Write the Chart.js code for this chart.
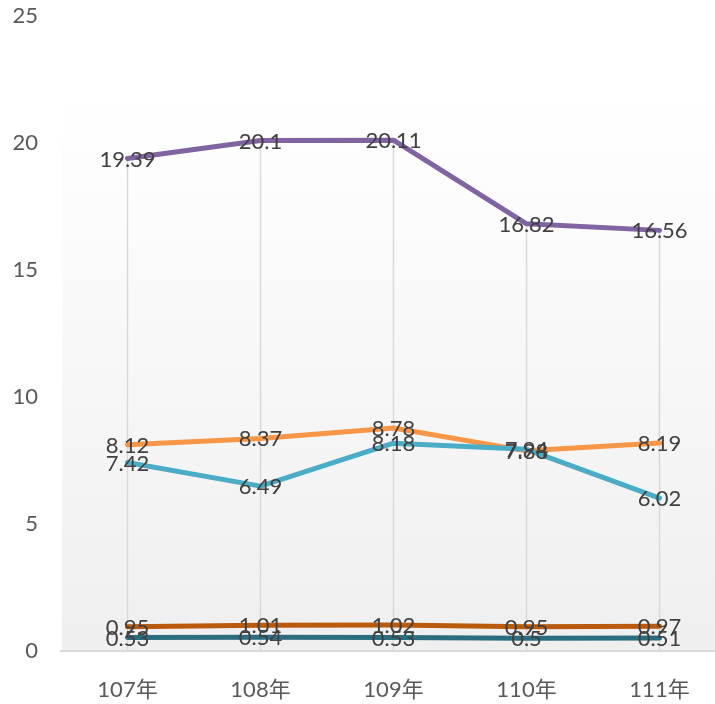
<!DOCTYPE html>
<html>
<head>
<meta charset="utf-8">
<script src="https://cdn.jsdelivr.net/npm/chart.js@4"></script>
<style>
  html, body { margin: 0; padding: 0; background: #fff; overflow: hidden; }
  #wrap { width: 741px; height: 704px; }
</style>
</head>
<body>
<div id="wrap"><canvas id="lineChart" width="741" height="704"></canvas></div>
<script>
const years = ['107年', '108年', '109年', '110年', '111年']

const purpleVals = [19.39, 20.1, 20.11, 16.82, 16.56]
const orangeVals = [8.12, 8.37, 8.78, 7.88, 8.19]
const blueVals = [7.42, 6.49, 8.18, 7.94, 6.02]
const darkOrangeVals = [0.95, 1.01, 1.02, 0.95, 0.97]
const tealVals = [0.53, 0.54, 0.53, 0.5, 0.51]

const yTicks = [0, 5, 10, 15, 20, 25]

const fontFam = 'Lato, "Noto Sans CJK TC", sans-serif'

// plot area shading, light at the top to grey at the axis
const plotBg = {
  id: 'plotBg',
  beforeDraw(chart) {
    const { ctx, chartArea } = chart
    const top = chartArea.top + 82
    const grad = ctx.createLinearGradient(0, top, 0, chartArea.bottom)
    grad.addColorStop(0, '#ffffff')
    grad.addColorStop(1, '#efefef')
    ctx.save()
    ctx.fillStyle = grad
    ctx.fillRect(chartArea.left + 1, top, chartArea.right - chartArea.left, chartArea.bottom - top)
    ctx.restore()
  }
}

// drop lines from the highest point of each category down to the axis
const dropLines = {
  id: 'dropLines',
  beforeDatasetsDraw(chart) {
    const { ctx, chartArea, scales } = chart
    ctx.save()
    ctx.strokeStyle = '#d9d9d9'
    ctx.lineWidth = 1.5
    years.forEach((y, i) => {
      let top = 0
      chart.data.datasets.forEach(ds => { if (ds.data[i] > top) top = ds.data[i] })
      const x = scales.x.getPixelForValue(i)
      ctx.beginPath()
      ctx.moveTo(x, scales.y.getPixelForValue(top))
      ctx.lineTo(x, chartArea.bottom)
      ctx.stroke()
    })
    ctx.restore()
  }
}

// value labels centred on each point
const valueLabels = {
  id: 'valueLabels',
  afterDatasetsDraw(chart) {
    const { ctx } = chart
    ctx.save()
    ctx.font = '22px ' + fontFam
    ctx.fillStyle = '#404040'
    ctx.textAlign = 'center'
    ctx.textBaseline = 'middle'
    for (let d = chart.data.datasets.length - 1; d >= 0; d--) {
      const meta = chart.getDatasetMeta(d)
      meta.data.forEach((pt, i) => {
        ctx.fillText(String(chart.data.datasets[d].data[i]), pt.x, pt.y + 1)
      })
    }
    ctx.restore()
  }
}

function lineSet(data, color) {
  return {
    data: data,
    borderColor: color,
    backgroundColor: color,
    borderWidth: 5,
    borderCapStyle: 'round',
    borderJoinStyle: 'round',
    pointRadius: 0,
    tension: 0,
    fill: false
  }
}

new Chart(document.getElementById('lineChart'), {
  type: 'line',
  data: {
    labels: years,
    datasets: [
      lineSet(purpleVals, '#8064a2'),
      lineSet(blueVals, '#4bacc6'),
      lineSet(orangeVals, '#f79646'),
      lineSet(darkOrangeVals, '#b95a0c'),
      lineSet(tealVals, '#2a6d7f')
    ]
  },
  options: {
    responsive: false,
    animation: false,
    devicePixelRatio: 1,
    layout: { padding: { top: 16, right: 15, left: 0, bottom: 0 } },
    plugins: {
      legend: { display: false },
      tooltip: { enabled: false }
    },
    scales: {
      x: {
        offset: true,
        grid: { display: true, color: 'rgba(0,0,0,0)', drawOnChartArea: false, drawTicks: false },
        border: { display: true, color: '#d9d9d9', width: 2 },
        ticks: { color: '#595959', font: { size: 22, family: fontFam }, padding: 26, maxRotation: 0 },
        afterFit(scale) { scale.height = 53 }
      },
      y: {
        min: 0,
        max: 25,
        afterBuildTicks(scale) { scale.ticks = yTicks.map(v => ({ value: v })) },
        grid: { display: false, drawTicks: false },
        border: { display: false },
        ticks: { color: '#595959', font: { size: 22, family: fontFam }, padding: 23 },
        afterFit(scale) {
          scale.width = 61
          scale.paddingTop = 0
          scale.paddingBottom = 0
        }
      }
    }
  },
  plugins: [plotBg, dropLines, valueLabels]
})
</script>
</body>
</html>
